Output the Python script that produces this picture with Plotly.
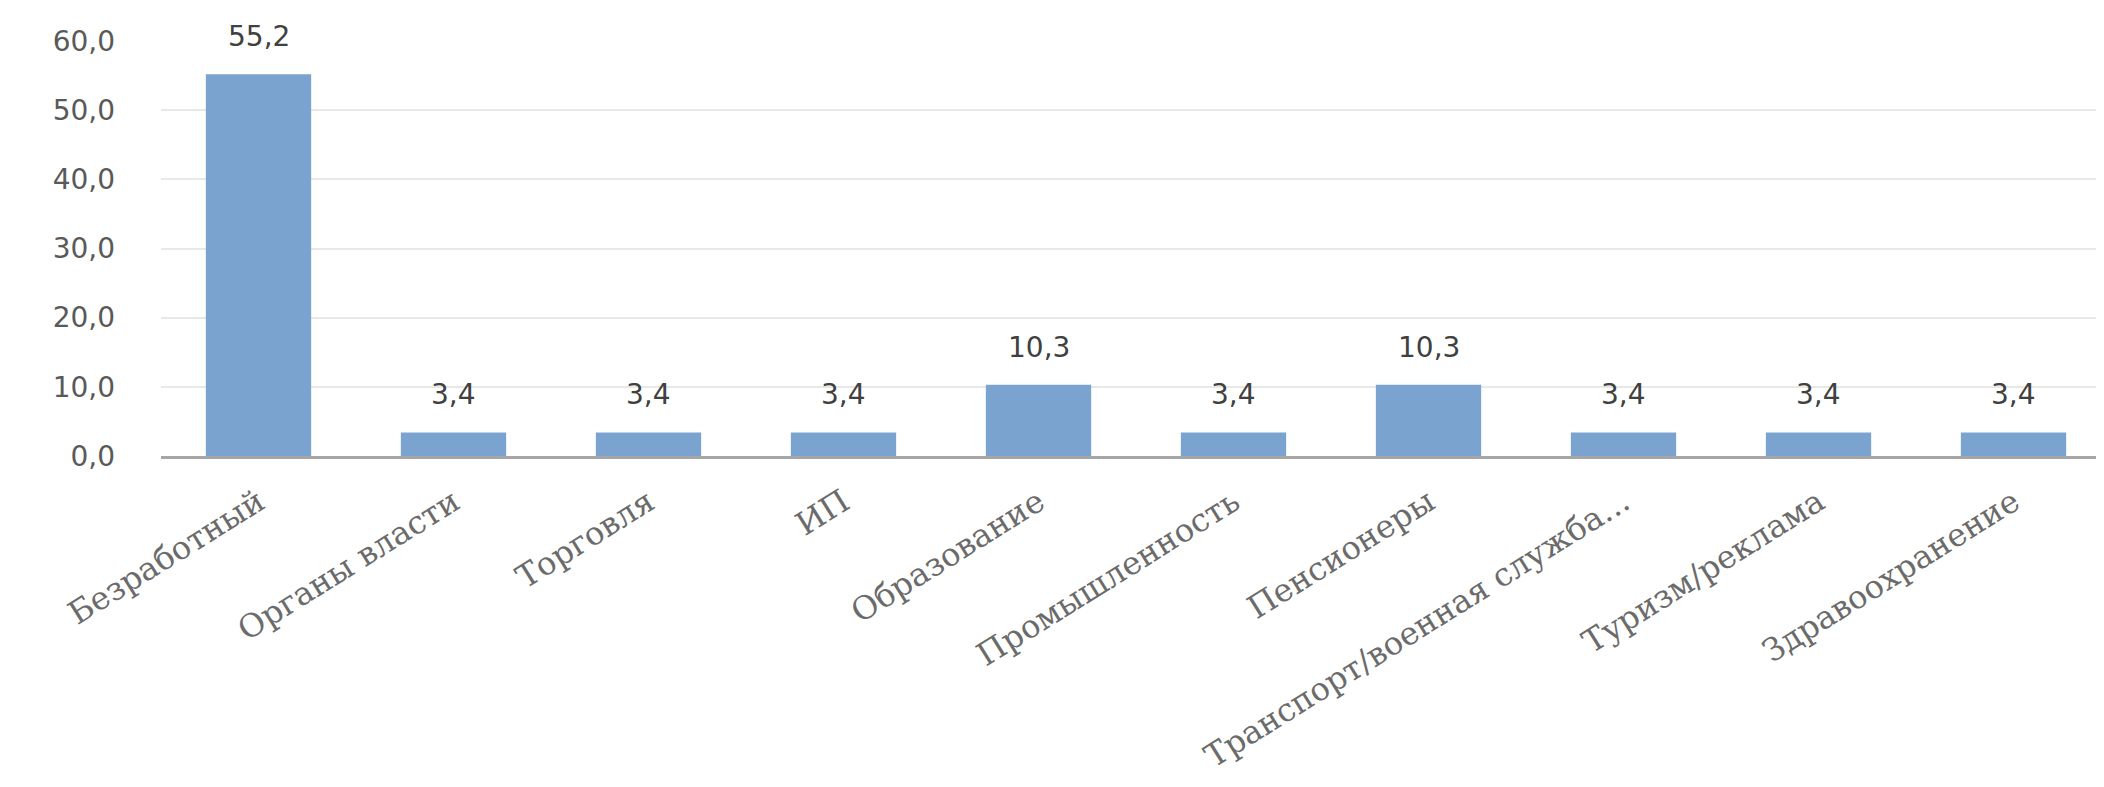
import plotly.graph_objects as go

categories = ["Безработный", "Органы власти", "Торговля", "ИП", "Образование",
              "Промышленность", "Пенсионеры", "Транспорт/военная служба...",
              "Туризм/реклама", "Здравоохранение"]
values = [55.2, 3.4, 3.4, 3.4, 10.3, 3.4, 10.3, 3.4, 3.4, 3.4]
y_ticks = [0, 10, 20, 30, 40, 50, 60]

BAR = "#7aa3cf"
NUM_FONT = dict(family="DejaVu Sans", size=28, color="#595959")

fig = go.Figure()
fig.add_trace(go.Bar(x=categories, y=values, marker=dict(color=BAR, line=dict(width=0)),
                     hoverinfo="skip"))

for c, v in zip(categories, values):
    fig.add_annotation(x=c, y=v, text=f"{v:.1f}".replace(".", ","), showarrow=False,
                       yanchor="bottom", yshift=19,
                       font=dict(family="DejaVu Sans", size=28, color="#404040"))

fig.update_layout(
    width=2104, height=787,
    margin=dict(l=153, r=1, t=33, b=339),
    paper_bgcolor="white", plot_bgcolor="white",
    bargap=0.46, showlegend=False,
    separators=", ",
)
fig.update_yaxes(range=[0, 60], tickvals=y_ticks, tickformat=".1f",
                 showgrid=True, gridcolor="#e8e8e8", gridwidth=2,
                 zeroline=False, showline=False, ticks="",
                 tickfont=NUM_FONT, ticklabelstandoff=45)
fig.update_xaxes(showline=True, linecolor="#a6a6a6", linewidth=3,
                 ticks="", tickangle=-32, showgrid=False,
                 tickfont=dict(family="DejaVu Serif", size=32, color="#6b6b6b"),
                 ticklabelstandoff=12)

fig.write_html("out.html")
